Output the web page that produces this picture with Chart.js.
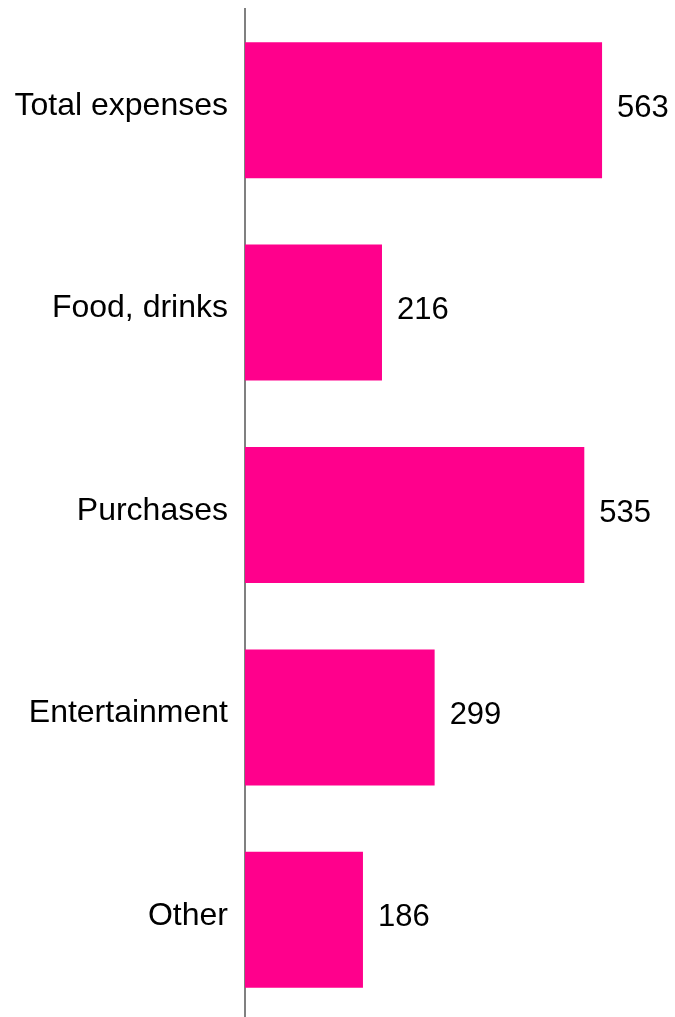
<!DOCTYPE html>
<html>
<head>
<meta charset="utf-8">
<script src="https://cdn.jsdelivr.net/npm/chart.js@4/dist/chart.umd.min.js"></script>
<style>
    html, body { margin: 0; padding: 0; background: #ffffff; overflow: hidden; }
    #resultPlot { display: block; }
</style>
</head>
<body>
<canvas id="resultPlot" width="675" height="1021"></canvas>
<script>
var categories = ['Total expenses', 'Food, drinks', 'Purchases', 'Entertainment', 'Other'];
var expenses = [563, 216, 535, 299, 186];
var barColor = '#ff008c';

/**
 * Write the value just right of every bar
 */
var valueLabels = {
    id: 'valueLabels',
    afterDatasetsDraw: function(chart){
        let ctx = chart.ctx;
        let meta = chart.getDatasetMeta(0);
        ctx.save();
        ctx.font = '31px "Liberation Sans", Arial, sans-serif';
        ctx.fillStyle = '#000000';
        ctx.textAlign = 'left';
        ctx.textBaseline = 'middle';
        for (let i = 0; i < meta.data.length; i++){
            let bar = meta.data[i];
            ctx.fillText(String(expenses[i]), bar.x + 15, bar.y - 2);
        }
        ctx.restore();
    }
};

/**
 * Draw the result plot
 */
function draw(){
    let plotArea = document.getElementById('resultPlot');
    let chartObject = {};
    chartObject['type'] = 'bar';
    chartObject['data'] = {
        labels: categories,
        datasets: [{
            data: expenses,
            backgroundColor: barColor,
            borderWidth: 0,
            barPercentage: 0.672,
            categoryPercentage: 1.0
        }]
    };
    chartObject['options'] = {
        indexAxis: 'y',
        responsive: false,
        animation: false,
        layout: {padding: {top: 9, left: 0, right: 0, bottom: 0}},
        plugins: {legend: {display: false}, tooltip: {enabled: false}},
        scales: {
            x: {display: false, min: 0, max: 678},
            y: {
                afterFit: function(scale){
                    scale.width = 245;
                    scale.paddingTop = 0;
                    scale.paddingBottom = 0;
                },
                grid: {display: false, drawTicks: false},
                border: {display: true, color: '#808080', width: 2},
                ticks: {
                    color: '#000000',
                    padding: 17,
                    labelOffset: -4,
                    font: {family: '"Liberation Sans", Arial, sans-serif', size: 32}
                }
            }
        }
    };
    chartObject['plugins'] = [valueLabels];
    plot = new Chart(plotArea, chartObject);
}

draw();
</script>
</body>
</html>
